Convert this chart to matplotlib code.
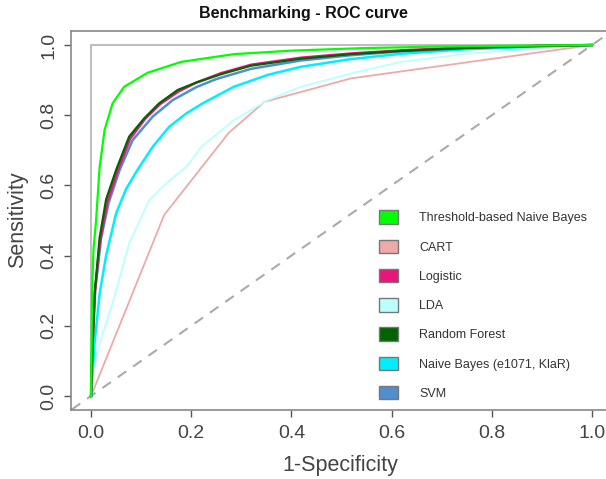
import matplotlib
matplotlib.use("Agg")
import matplotlib.pyplot as plt
from matplotlib.patches import Patch

plt.rcParams['font.family'] = ['Liberation Sans', 'DejaVu Sans']

# ROC points (fpr, tpr)
tbnb_fpr = [0, 0.002, 0.005, 0.01, 0.017, 0.027, 0.043, 0.066, 0.113, 0.18, 0.285, 0.4, 0.539, 0.7, 1]
tbnb_tpr = [0, 0.30, 0.42, 0.50, 0.65, 0.758, 0.834, 0.881, 0.921, 0.952, 0.974, 0.984, 0.991, 0.996, 1]

cart_fpr = [0, 0.146, 0.275, 0.346, 0.519, 1]
cart_tpr = [0, 0.516, 0.75, 0.838, 0.905, 1]

logit_fpr = [0, 0.003, 0.008, 0.018, 0.032, 0.052, 0.078, 0.108, 0.138, 0.175, 0.21, 0.26, 0.32, 0.42, 0.52, 0.62, 0.75, 0.9, 1]
logit_tpr = [0, 0.15, 0.30, 0.44, 0.55, 0.638, 0.733, 0.79, 0.832, 0.868, 0.893, 0.92, 0.944, 0.964, 0.976, 0.985, 0.993, 0.998, 1]

lda_fpr = [0, 0.004, 0.017, 0.043, 0.076, 0.116, 0.15, 0.19, 0.22, 0.285, 0.353, 0.419, 0.519, 0.619, 0.75, 0.9, 1]
lda_tpr = [0, 0.08, 0.15, 0.264, 0.435, 0.558, 0.606, 0.653, 0.71, 0.786, 0.843, 0.881, 0.919, 0.952, 0.975, 0.992, 1]

rf_fpr = [0, 0.002, 0.007, 0.017, 0.03, 0.05, 0.076, 0.106, 0.136, 0.173, 0.21, 0.26, 0.319, 0.419, 0.519, 0.619, 0.75, 0.9, 1]
rf_tpr = [0, 0.10, 0.29, 0.45, 0.56, 0.644, 0.739, 0.791, 0.834, 0.872, 0.893, 0.917, 0.941, 0.961, 0.974, 0.983, 0.992, 0.998, 1]

nb_fpr = [0, 0.007, 0.017, 0.03, 0.05, 0.07, 0.093, 0.123, 0.156, 0.19, 0.223, 0.285, 0.353, 0.419, 0.519, 0.619, 0.75, 0.9, 1]
nb_tpr = [0, 0.15, 0.29, 0.40, 0.52, 0.59, 0.645, 0.71, 0.767, 0.805, 0.834, 0.881, 0.915, 0.938, 0.96, 0.975, 0.988, 0.996, 1]

svm_fpr = [0, 0.002, 0.008, 0.02, 0.035, 0.057, 0.083, 0.123, 0.163, 0.21, 0.25, 0.319, 0.419, 0.519, 0.619, 0.75, 0.9, 1]
svm_tpr = [0, 0.12, 0.30, 0.45, 0.55, 0.644, 0.729, 0.796, 0.843, 0.88, 0.903, 0.932, 0.956, 0.971, 0.982, 0.991, 0.997, 1]

labels = ["Threshold-based Naive Bayes", "CART", "Logistic", "LDA",
          "Random Forest", "Naive Bayes (e1071, KlaR)", "SVM"]
colors = ["#00ff00", "#eea9a9", "#e8157a", "#bbffff", "#006400", "#00eeff", "#4f8fcd"]
ticks = [0.0, 0.2, 0.4, 0.6, 0.8, 1.0]

fig = plt.figure(figsize=(6.06, 4.79), dpi=100)
ax = fig.add_axes([0.1172, 0.144, 0.8927, 0.7913])

# reference lines
ax.plot([-0.1, 1.1], [-0.1, 1.1], color="#aaaaaa", lw=1.5, ls=(0, (5, 4)))
ax.plot([0, 0, 1], [0, 1, 1], color="#bebebe", lw=1.5)

curves = [(cart_fpr, cart_tpr, 1.3), (lda_fpr, lda_tpr, 1.3), (nb_fpr, nb_tpr, 1.8),
          (svm_fpr, svm_tpr, 1.8), (logit_fpr, logit_tpr, 1.8), (rf_fpr, rf_tpr, 1.6),
          (tbnb_fpr, tbnb_tpr, 1.6)]
col_of = [colors[1], colors[3], colors[5], colors[6], colors[2], colors[4], colors[0]]
for (fx, ty, lw), c in zip(curves, col_of):
    ax.plot(fx, ty, color=c, lw=lw)

ax.set_xlim(-0.04, 1.04)
ax.set_ylim(-0.04, 1.04)
ax.set_xticks(ticks)
ax.set_yticks(ticks)
ax.set_xticklabels([f"{t:.1f}" for t in ticks])
ax.set_yticklabels([f"{t:.1f}" for t in ticks], rotation=90, va="center")
ax.tick_params(axis="x", length=5, width=1, color="#555555", labelsize=14,
               labelcolor="#444444", pad=6)
ax.tick_params(axis="y", length=5, width=1, color="#555555", labelsize=14,
               labelcolor="#444444", pad=5)
for s in ["left", "bottom", "top"]:
    ax.spines[s].set_color("#888888")
    ax.spines[s].set_linewidth(1.2)
ax.spines["right"].set_visible(False)

handles = [Patch(facecolor=c, edgecolor="#777777", lw=1) for c in colors]
ax.legend(handles, labels, loc="upper left", bbox_to_anchor=(0.57, 0.527),
          frameon=False, fontsize=9, handlelength=1.52, handleheight=1.3,
          labelspacing=1.22, handletextpad=1.68, borderpad=0, borderaxespad=0,
          labelcolor="#333333")

fig.text(0.5, 0.971, "Benchmarking - ROC curve", ha="center", va="center",
         fontsize=11.5, fontweight="bold", color="#111111")
fig.text(340 / 606, 1 - 465 / 479, "1-Specificity", ha="center", va="center",
         fontsize=15.5, color="#444444")
fig.text(18 / 606, 1 - 220 / 479, "Sensitivity", ha="center", va="center",
         rotation=90, fontsize=15.5, color="#444444")

fig.savefig("out.png", dpi=100)
